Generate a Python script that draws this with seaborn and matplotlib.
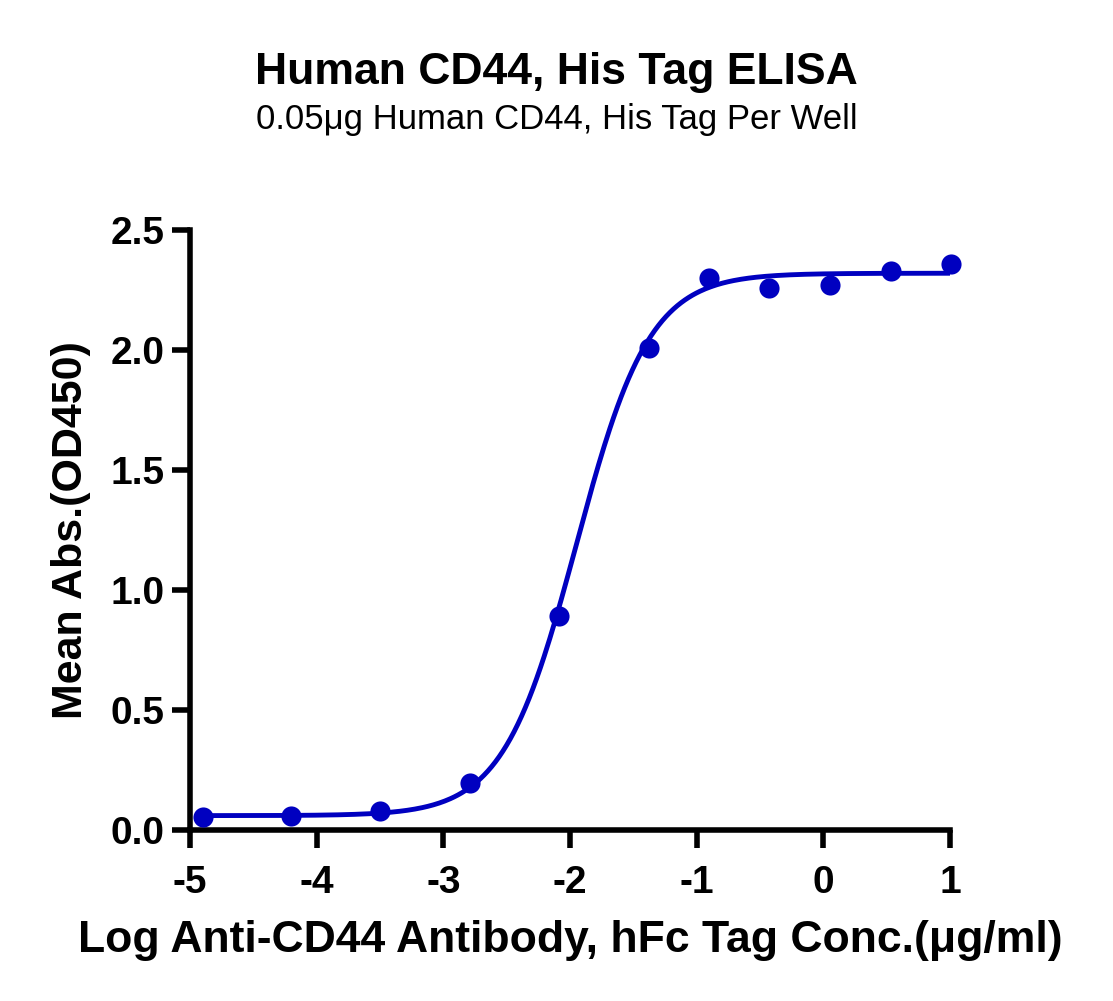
import numpy as np
import pandas as pd
import matplotlib
matplotlib.use("Agg")
import matplotlib.pyplot as plt
import seaborn as sns

# Data
log_conc = [-4.90, -4.20, -3.50, -2.79, -2.09, -1.38, -0.90, -0.43, 0.05, 0.53, 1.01]
mean_abs = [0.054, 0.058, 0.079, 0.196, 0.89, 2.01, 2.30, 2.26, 2.27, 2.33, 2.36]

# 4-parameter logistic fit parameters (estimated from the drawn curve)
fit_bottom = 0.06
fit_top = 2.32
fit_logec50 = -1.95
fit_hill = 1.5

x_ticks = [-5, -4, -3, -2, -1, 0, 1]
y_ticks = [0.0, 0.5, 1.0, 1.5, 2.0, 2.5]

title = "Human CD44, His Tag ELISA"
subtitle = "0.05μg Human CD44, His Tag Per Well"
xlabel = "Log Anti-CD44 Antibody, hFc Tag Conc.(μg/ml)"
ylabel = "Mean Abs.(OD450)"

sns.set_style("ticks")
plt.rcParams['font.family'] = ['Liberation Sans', 'DejaVu Sans']
plt.rcParams['text.color'] = 'black'
plt.rcParams['axes.labelcolor'] = 'black'
plt.rcParams['xtick.color'] = 'black'
plt.rcParams['ytick.color'] = 'black'

color = "#0000C0"

fig = plt.figure(figsize=(11.13, 10.01), dpi=100)
ax = fig.add_axes([0.1707, 0.1708, 0.6829, 0.5994])

xf = np.linspace(min(log_conc), max(log_conc), 400)
yf = fit_bottom + (fit_top - fit_bottom) / (1 + 10 ** ((fit_logec50 - xf) * fit_hill))
curve = pd.DataFrame({"x": xf, "y": yf})
pts = pd.DataFrame({"x": log_conc, "y": mean_abs})

sns.lineplot(data=curve, x="x", y="y", ax=ax, color=color, linewidth=3.5)
sns.scatterplot(data=pts, x="x", y="y", ax=ax, color=color, s=210, edgecolor=color, linewidth=0, zorder=5, clip_on=False)

ax.set_xlim(-5, 1)
ax.set_ylim(0, 2.5)
ax.set_xticks(x_ticks)
ax.set_xticklabels([str(t) for t in x_ticks])
ax.set_yticks(y_ticks)
ax.set_yticklabels([f"{t:.1f}" for t in y_ticks])

for s in ["top", "right"]:
    ax.spines[s].set_visible(False)
for s in ["left", "bottom"]:
    ax.spines[s].set_linewidth(4)
    ax.spines[s].set_color("black")
ax.tick_params(axis="both", width=4, length=13, labelsize=28, color="black", labelcolor="black")
ax.tick_params(axis="x", pad=12)
ax.tick_params(axis="y", pad=5)
for lab in ax.get_xticklabels() + ax.get_yticklabels():
    lab.set_fontweight("bold")

ax.set_xlabel(xlabel, fontsize=32, fontweight="bold", labelpad=14)
ax.set_ylabel(ylabel, fontsize=31, fontweight="bold", labelpad=14)

fig.text(0.5, 0.928, title, ha="center", va="center", fontsize=32, fontweight="bold")
fig.text(0.5, 0.881, subtitle, ha="center", va="center", fontsize=25)

fig.savefig("out.png", dpi=100)
